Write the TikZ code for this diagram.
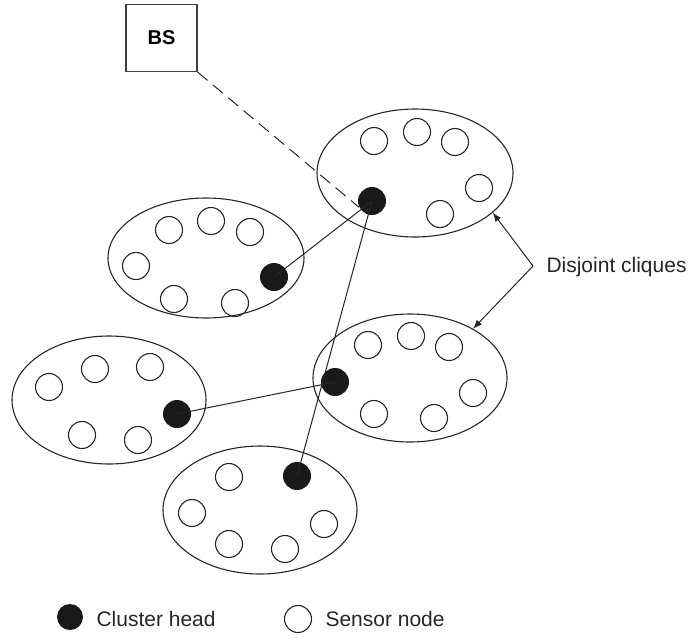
\documentclass[tikz,border=0pt]{standalone}
\usepackage{fontspec}
\setmainfont{Liberation Sans}
\usetikzlibrary{shapes.geometric,arrows.meta}
\begin{document}
\begin{tikzpicture}[x=1pt,y=-1pt,
  line width=1pt,
  every node/.style={inner sep=0pt},
  clique/.style={ellipse,draw=black!85,line width=1.1pt},
  sensor/.style={circle,draw=black!85,line width=1.1pt,minimum size=27pt},
  chead/.style={circle,fill=black!90,minimum size=28pt},
  link/.style={draw=black!85,line width=1pt},
  lbl/.style={font=\fontsize{21}{25}\selectfont,text=black!85,anchor=west},
  tip/.style={-{Latex[length=9pt,width=7pt]},draw=black!85,line width=1pt}
]
\useasboundingbox (0,0) rectangle (695,637);

% base station
\node[draw=black!75,line width=1.1pt,minimum width=71pt,minimum height=67pt,
  font=\fontsize{20}{24}\selectfont\bfseries] (bs) at (161.5,38) {BS};

% cliques
\node[clique,minimum width=196pt,minimum height=128pt] (e1) at (415,173) {};
\node[clique,minimum width=196pt,minimum height=120pt] (e2) at (206,258) {};
\node[clique,minimum width=194pt,minimum height=128pt] (e3) at (410,378) {};
\node[clique,minimum width=194pt,minimum height=128pt] (e4) at (109,400) {};
\node[clique,minimum width=194pt,minimum height=128pt] (e5) at (260,510) {};

% sensors clique 1
\node[sensor] (s11) at (374,141) {};
\node[sensor] (s12) at (417,132) {};
\node[sensor] (s13) at (455,142) {};
\node[sensor] (s14) at (479,188) {};
\node[sensor] (s15) at (440,214) {};
% sensors clique 2
\node[sensor] (s21) at (169,230) {};
\node[sensor] (s22) at (211,221) {};
\node[sensor] (s23) at (250,232) {};
\node[sensor] (s24) at (136,266) {};
\node[sensor] (s25) at (174,299) {};
\node[sensor] (s26) at (235,303) {};
% sensors clique 3
\node[sensor] (s31) at (368,345) {};
\node[sensor] (s32) at (411,336) {};
\node[sensor] (s33) at (449,347) {};
\node[sensor] (s34) at (473,393) {};
\node[sensor] (s35) at (374,414) {};
\node[sensor] (s36) at (434,418) {};
% sensors clique 4
\node[sensor] (s41) at (49,387) {};
\node[sensor] (s42) at (95,369) {};
\node[sensor] (s43) at (150,367) {};
\node[sensor] (s44) at (82,435) {};
\node[sensor] (s45) at (138,440) {};
% sensors clique 5
\node[sensor] (s51) at (229,477) {};
\node[sensor] (s52) at (192,513) {};
\node[sensor] (s53) at (229,544) {};
\node[sensor] (s54) at (285,549) {};
\node[sensor] (s55) at (324,524) {};

% cluster heads
\node[chead] (c1) at (372,201) {};
\node[chead] (c2) at (274,277) {};
\node[chead] (c3) at (335,382) {};
\node[chead] (c4) at (177,414) {};
\node[chead] (c5) at (297,476) {};

% links
\draw[link] (c1.center) -- (c2.center);
\draw[link] (c1.center) -- (c5.center);
\draw[link] (c3.center) -- (c4.center);
\draw[link,dash pattern=on 13pt off 7pt] (bs.south east) -- (c1.205);

% disjoint cliques label
\coordinate (dc) at (533,266);
\node[lbl] (dtext) at (546,267) {Disjoint cliques};
\draw[tip] (dc) -- (e1.-27);
\draw[tip] (dc) -- (e3.38);

% legend
\node[chead,minimum size=26pt] (lch) at (70,617) {};
\node[lbl] (lcht) at (96,619) {Cluster head};
\node[sensor] (lsn) at (298,619) {};
\node[lbl] (lsnt) at (325,619) {Sensor node};
\end{tikzpicture}
\end{document}
